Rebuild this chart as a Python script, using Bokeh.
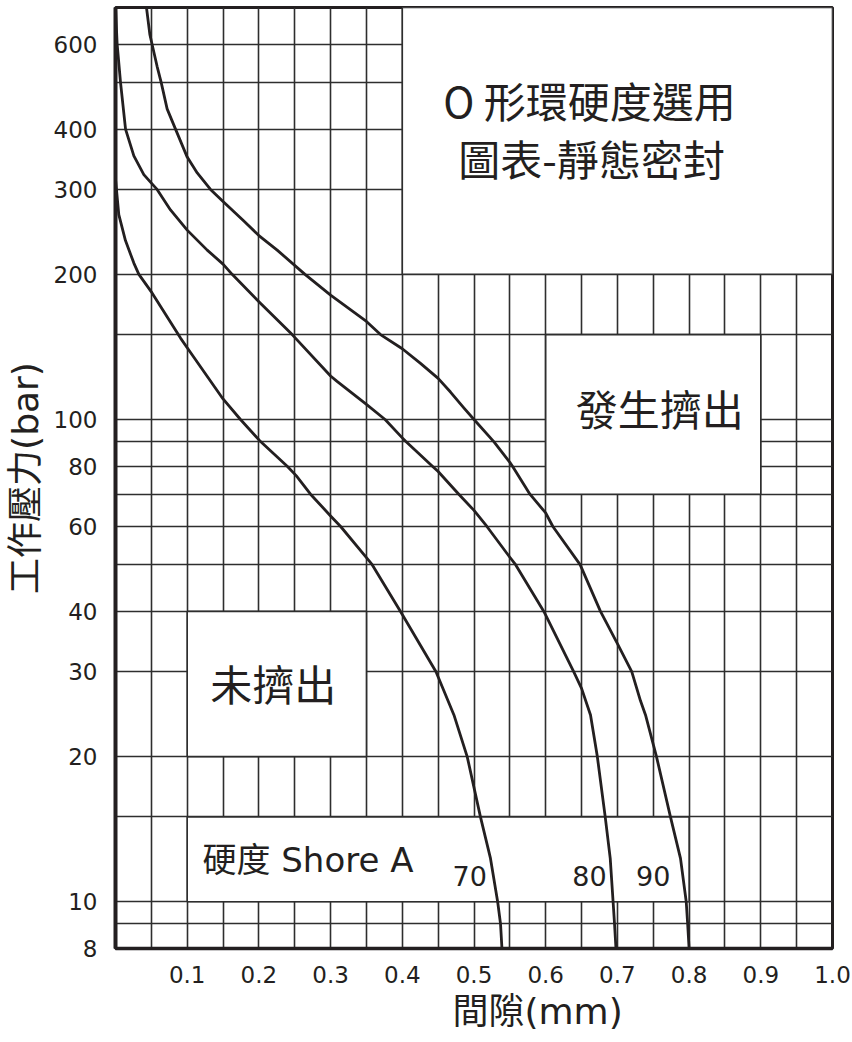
from bokeh.plotting import figure
from bokeh.models import Range1d, FixedTicker, Label, Title
from bokeh.embed import file_html
from bokeh.resources import INLINE

# ---------------- data ----------------
x_ticks = [0.1, 0.2, 0.3, 0.4, 0.5, 0.6, 0.7, 0.8, 0.9, 1.0]
x_tick_labels = ["0.1", "0.2", "0.3", "0.4", "0.5", "0.6", "0.7", "0.8", "0.9", "1.0"]
y_ticks = [8, 10, 20, 30, 40, 60, 80, 100, 200, 300, 400, 600]
y_tick_labels = ["8", "10", "20", "30", "40", "60", "80", "100", "200", "300", "400", "600"]

x_grid = [0.05, 0.1, 0.15, 0.2, 0.25, 0.3, 0.35, 0.4, 0.45, 0.5,
          0.55, 0.6, 0.65, 0.7, 0.75, 0.8, 0.85, 0.9, 0.95]
y_grid = [9, 10, 15, 20, 30, 40, 50, 60, 70, 80, 90, 100, 150, 200, 300, 400, 500, 600]

# blank (label) regions of the grid
box_left = [0.4, 0.6, 0.1, 0.1]
box_right = [1.0, 0.9, 0.35, 0.8]
box_bottom = [200, 70, 20, 10]
box_top = [715, 150, 40, 15]

# Shore A 70
c70_x = [0.000, 0.0046, 0.0139, 0.0256, 0.0326, 0.051, 0.0907, 0.100, 0.150, 0.1743,
         0.2023, 0.2395, 0.252, 0.272, 0.300, 0.314, 0.350, 0.358, 0.3975, 0.447,
         0.472, 0.4905, 0.509, 0.523, 0.533, 0.537, 0.539]
c70_y = [315, 266, 235, 211, 200, 183, 147.5, 140.9, 110.3, 100,
         90, 80, 76.5, 70, 63.1, 60, 51.7, 50, 40, 30,
         24.4, 20, 15, 12.3, 10, 9, 8]
# Shore A 80
c80_x = [0.000, 0.0023, 0.007, 0.014, 0.0256, 0.0395, 0.051, 0.058, 0.0767, 0.100,
         0.1279, 0.150, 0.1627, 0.200, 0.2464, 0.300, 0.309, 0.350, 0.376, 0.400,
         0.405, 0.442, 0.450, 0.4788, 0.500, 0.518, 0.550, 0.558, 0.5974, 0.639,
         0.650, 0.6625, 0.672, 0.683, 0.690, 0.694, 0.696, 0.698]
c80_y = [715, 600, 500, 400, 352, 322, 308, 300, 272, 247,
         224.5, 210, 200, 175.5, 150, 123.1, 120, 107.5, 100, 91.6,
         90, 80, 78, 70, 64.8, 60, 51.8, 50, 40, 30,
         27.7, 24.4, 20, 15, 12.3, 10, 9, 8]
# Shore A 90
c90_x = [0.0432, 0.0479, 0.051, 0.058, 0.0637, 0.072, 0.0837, 0.100, 0.114, 0.1325,
         0.150, 0.179, 0.200, 0.2255, 0.2643, 0.300, 0.350, 0.3696, 0.400, 0.4254,
         0.450, 0.4672, 0.4858, 0.500, 0.5276, 0.550, 0.5537, 0.578, 0.600, 0.610,
         0.648, 0.6764, 0.700, 0.720, 0.7322, 0.7392, 0.7545, 0.774, 0.788, 0.796,
         0.798, 0.800]
c90_y = [715, 629, 600, 540, 500, 440.6, 400, 350, 324.6, 300,
         283, 257.9, 240.6, 224.5, 200, 181.1, 159.7, 150, 140.2, 130.7,
         121.7, 114, 105.7, 100, 90, 81.5, 80, 70, 64, 60,
         50, 40, 34.3, 30, 26.1, 24.4, 20, 15, 12.3, 10,
         9, 8]

shore_labels = ["70", "80", "90"]

# ---------------- styles ----------------
INK = "#231f20"
GRID = "#2e2e2e"
MIX = "DejaVu Sans, Noto Sans CJK TC"
CJK = "Noto Sans CJK TC"
NUM = "DejaVu Sans"

p = figure(width=852, height=1042, y_axis_type="log",
           x_range=Range1d(0, 1.0), y_range=Range1d(8, 715),
           output_backend="svg", toolbar_location=None,
           min_border_left=115, min_border_right=20,
           min_border_top=7, min_border_bottom=94)
p.background_fill_color = "white"
p.border_fill_color = "white"
p.outline_line_color = INK
p.outline_line_width = 3
p.outline_line_alpha = 1.0

# grid
p.xgrid.ticker = FixedTicker(ticks=x_grid)
p.ygrid.ticker = FixedTicker(ticks=y_grid)
for g in (p.xgrid, p.ygrid):
    g.grid_line_color = GRID
    g.grid_line_width = 1.6
    g.grid_line_alpha = 1.0
p.xgrid.minor_grid_line_color = None
p.ygrid.minor_grid_line_color = None

# blank regions
p.quad(left=box_left, right=box_right, bottom=box_bottom, top=box_top,
       fill_color="white", line_color=GRID, line_width=1.6)

# curves
for cx, cy in ((c70_x, c70_y), (c80_x, c80_y), (c90_x, c90_y)):
    p.line(cx, cy, line_color=INK, line_width=2.8, line_join="round")

# axes
p.xaxis.ticker = FixedTicker(ticks=x_ticks)
p.xaxis.major_label_overrides = dict(zip(x_ticks, x_tick_labels))
p.yaxis.ticker = FixedTicker(ticks=y_ticks)
p.yaxis.major_label_overrides = dict(zip(y_ticks, y_tick_labels))
for ax in (p.xaxis, p.yaxis):
    ax.major_tick_line_color = None
    ax.minor_tick_line_color = None
    ax.major_tick_out = 0
    ax.major_tick_in = 0
    ax.axis_line_color = INK
    ax.major_label_text_font = NUM
    ax.major_label_text_font_size = "23px"
    ax.major_label_text_color = INK
p.yaxis.axis_line_width = 4
p.xaxis.axis_line_width = 3.5
p.yaxis.major_label_standoff = 18
p.xaxis.major_label_standoff = 17

p.yaxis.axis_label = "工作壓力(bar)"
p.yaxis.axis_label_text_font = MIX
p.yaxis.axis_label_text_font_size = "36px"
p.yaxis.axis_label_text_font_style = "normal"
p.yaxis.axis_label_text_color = INK
p.yaxis.axis_label_standoff = 5

# x axis title (placed right of centre, as in the original)
xt = Title(text="間隙(mm)", align="left", offset=337, standoff=6,
           text_font=MIX, text_font_size="36px", text_font_style="normal",
           text_color=INK)
p.add_layout(xt, "below")

# region texts
p.add_layout(Label(x=0.661, y=460, text="O 形環硬度選用", text_font=CJK,
                   text_font_size="42px", text_color=INK,
                   text_align="center", text_baseline="middle"))
p.add_layout(Label(x=0.664, y=350, text="圖表-靜態密封", text_font=CJK,
                   text_font_size="42px", text_color=INK,
                   text_align="center", text_baseline="middle"))
p.add_layout(Label(x=0.759, y=106, text="發生擠出", text_font=CJK,
                   text_font_size="42px", text_color=INK,
                   text_align="center", text_baseline="middle"))
p.add_layout(Label(x=0.220, y=28.5, text="未擠出", text_font=CJK,
                   text_font_size="42px", text_color=INK,
                   text_align="center", text_baseline="middle"))
p.add_layout(Label(x=0.1213, y=12.2, text="硬度 Shore A", text_font=MIX,
                   text_font_size="34px", text_color=INK,
                   text_align="left", text_baseline="middle"))

label_x = [0.494, 0.661, 0.750]
for lx, lt in zip(label_x, shore_labels):
    p.add_layout(Label(x=lx, y=11.3, text=lt, text_font=NUM,
                       text_font_size="27px", text_color=INK,
                       text_align="center", text_baseline="middle"))

open("out.html", "w").write(file_html(p, INLINE))
